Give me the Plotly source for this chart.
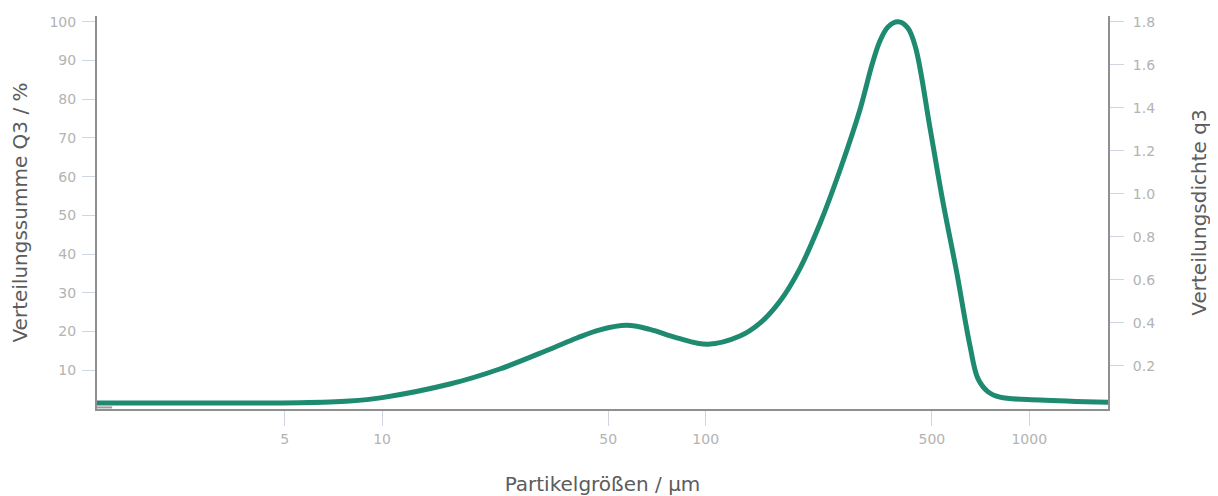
import plotly.graph_objects as go
import numpy as np

# Particle size (µm) and density distribution q3
sizes = [1.315, 3, 5.57, 7.94, 10, 16.19, 23.1, 33.0, 40.0, 47.1, 57.1, 67.2, 81.5,
         101.6, 127.6, 147.1, 169.6, 195.5, 225.4, 259.9, 299.7, 326.5, 345.5,
         365.8, 392.8, 421.2, 445.8, 493.2, 541.0, 596.0, 655.7, 694.1,
         744.3, 811.9, 1079, 1751]
q3 = [0.028, 0.028, 0.029, 0.037, 0.053, 0.116, 0.186, 0.278, 0.330, 0.368, 0.389,
      0.370, 0.331, 0.301, 0.339, 0.399, 0.501, 0.653, 0.861, 1.110, 1.391, 1.600,
      1.711, 1.776, 1.800, 1.772, 1.677, 1.308, 0.962, 0.639, 0.294, 0.141,
      0.081, 0.055, 0.042, 0.031]

x_ticks = [5, 10, 50, 100, 500, 1000]
left_ticks = [10, 20, 30, 40, 50, 60, 70, 80, 90, 100]
right_ticks = [0.2, 0.4, 0.6, 0.8, 1.0, 1.2, 1.4, 1.6, 1.8]

x_title = "Partikelgrößen / µm"
y_title = "Verteilungssumme Q3 / %"
y2_title = "Verteilungsdichte q3"

LINE = "rgb(30,138,112)"
AXIS = "#8f8f8f"
TICK = "#d0d5e2"
TICKFONT = dict(family="DejaVu Sans", size=14, color="#b3b3b3")
TITLEFONT = dict(family="DejaVu Sans", size=20, color="#5c5c5c")

fig = go.Figure()
# invisible trace anchoring the left axis
fig.add_trace(go.Scatter(x=[sizes[0], sizes[-1]], y=[0, 0], mode="lines",
                         line=dict(width=0), opacity=0, hoverinfo="skip",
                         showlegend=False, yaxis="y"))
fig.add_trace(go.Scatter(x=sizes, y=q3, mode="lines",
                         line=dict(color=LINE, width=5, shape="spline", smoothing=1.0),
                         showlegend=False, yaxis="y2"))

fig.update_layout(
    width=1218, height=496,
    margin=dict(l=89, r=118, t=6, b=95),
    paper_bgcolor="white", plot_bgcolor="white",
    xaxis=dict(type="log", range=[np.log10(sizes[0]), np.log10(sizes[-1])],
               tickvals=x_ticks, ticktext=[str(v) for v in x_ticks],
               ticks="outside", ticklen=15, tickwidth=1, tickcolor=TICK,
               tickfont=TICKFONT, showgrid=False, zeroline=False,
               showline=True, linecolor=AXIS, linewidth=2, ticklabelstandoff=1,
               title=dict(text=x_title, font=TITLEFONT, standoff=31)),
    yaxis=dict(range=[0, 101.5], tickvals=left_ticks,
               ticks="outside", ticklen=13, tickwidth=1, tickcolor=TICK,
               tickfont=TICKFONT, showgrid=False, zeroline=False,
               showline=True, linecolor=AXIS, linewidth=2, ticklabelstandoff=3,
               title=dict(text=y_title, font=TITLEFONT, standoff=17)),
    yaxis2=dict(range=[0, 1.827], tickvals=right_ticks, tickformat=".1f",
                overlaying="y", side="right",
                ticks="outside", ticklen=14, tickwidth=1, tickcolor=TICK,
                tickfont=TICKFONT, showgrid=False, zeroline=False,
                showline=True, linecolor=AXIS, linewidth=2, ticklabelstandoff=6,
                title=dict(text=y2_title, font=TITLEFONT, standoff=38)),
    shapes=[dict(type="line", xref="paper", yref="paper", x0=0, x1=0.015,
                 y0=0.004, y1=0.004, line=dict(color="#9a9a9a", width=2))],
)

fig.write_html("out.html")
